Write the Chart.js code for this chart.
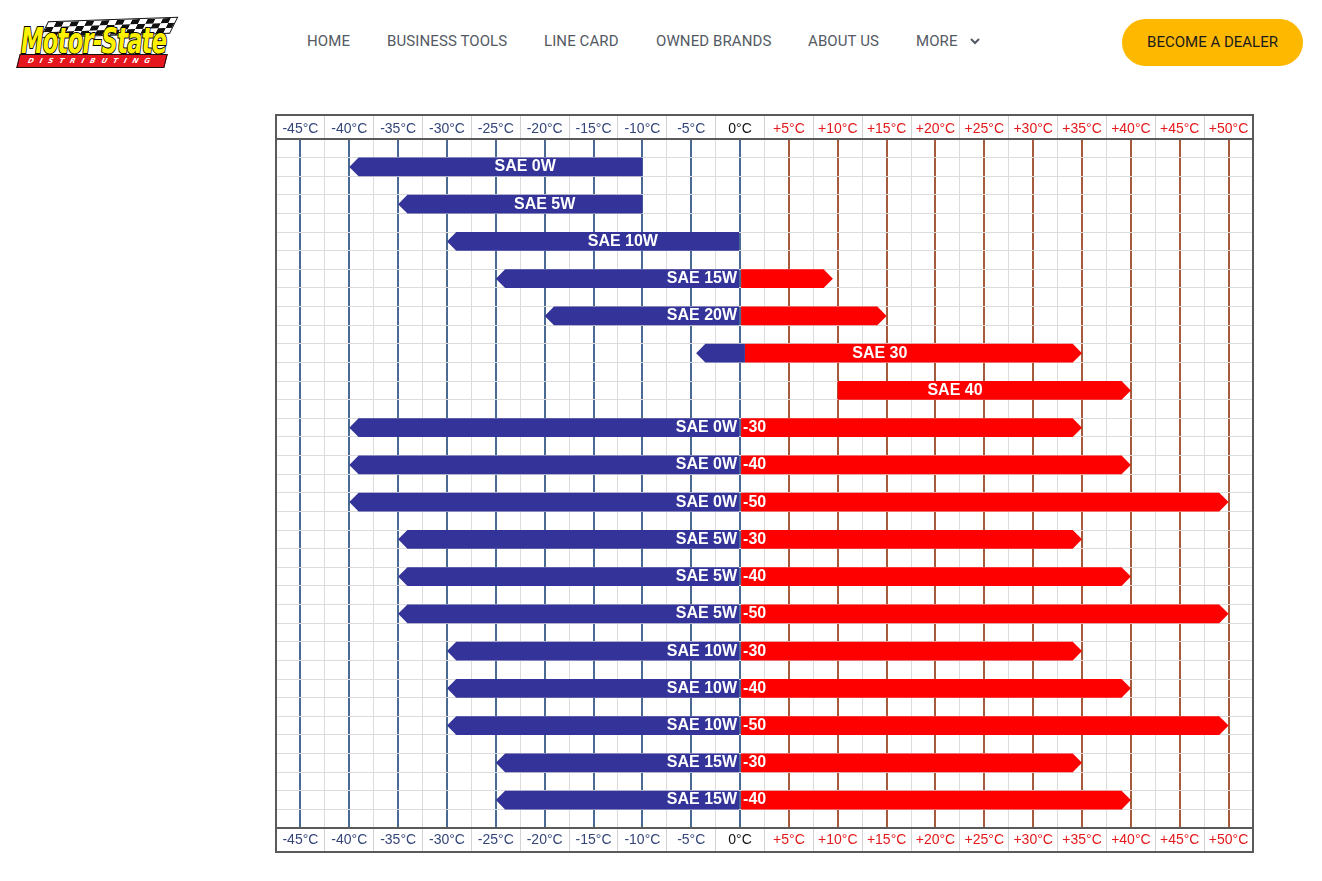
<!DOCTYPE html>
<html>
<head>
<meta charset="utf-8">
<title>SAE - temperatura</title>
<script src="https://cdn.jsdelivr.net/npm/chart.js@4.4.1/dist/chart.umd.min.js"></script>
<style>
  html, body { margin: 0; padding: 0; background: #fff; }
  body { width: 1322px; height: 881px; position: relative; overflow: hidden; font-family: Roboto, "Noto Sans", sans-serif; }
  .logo { position: absolute; left: 15px; top: 16px; width: 162px; height: 52px; }
  .bandera { position: absolute; left: 30px; top: 3px; width: 126px; height: 15px;
    background: repeating-conic-gradient(#111 0 25%, #fff 0 50%) 0 0 / 15px 10px;
    border: 1px solid #111; transform: skewX(-28deg) rotate(-2deg); }
  .marca { position: absolute; left: 6px; top: 4px; white-space: nowrap; font-family: "DejaVu Sans Condensed", "DejaVu Sans", sans-serif;
    font-stretch: condensed; font-weight: bold; font-style: italic; font-size: 34px; letter-spacing: -1px;
    color: #fff200; -webkit-text-stroke: 2px #000; paint-order: stroke fill; transform: scale(0.74, 1.02); transform-origin: left top; }
  .franja { position: absolute; left: 3px; top: 38px; width: 146px; height: 12px; background: #e5161d;
    border: 1.5px solid #111; transform: skewX(-14deg); color: #fff; font: italic bold 7px "DejaVu Sans", sans-serif;
    letter-spacing: 6px; line-height: 12px; text-align: center; white-space: nowrap; }
  .nav a { position: absolute; top: 31px; font-size: 15px; line-height: 20px; color: #545a63; text-decoration: none; letter-spacing: 0.1px; }
  .nav svg { position: absolute; left: 969px; top: 37px; }
  .boton { position: absolute; left: 1122px; top: 19px; width: 181px; height: 47px; border-radius: 24px; background: #ffb800;
    color: #1b1b1b; font-size: 15px; line-height: 47px; text-align: center; }
  #marcoGrafico { position: absolute; left: 270px; top: 100px; width: 990px; height: 760px; }
</style>
</head>
<body>
<div class="logo">
  <div class="bandera"></div>
  <div class="marca">Motor-State</div>
  <div class="franja">DISTRIBUTING</div>
</div>
<div class="nav">
  <a style="left:307px">HOME</a>
  <a style="left:387px">BUSINESS TOOLS</a>
  <a style="left:544px">LINE CARD</a>
  <a style="left:656px">OWNED BRANDS</a>
  <a style="left:808px">ABOUT US</a>
  <a style="left:916px">MORE</a>
  <svg width="12" height="8" viewBox="0 0 12 8"><path d="M2 2 L6 6 L10 2" fill="none" stroke="#545a63" stroke-width="2"/></svg>
</div>
<div class="boton">BECOME A DEALER</div>

<div id="marcoGrafico"><canvas id="graficoSAE"></canvas></div>

<script>
// === Datos (filas de arriba hacia abajo) ===
const gradoInvierno = ["SAE 0W", "SAE 5W", "SAE 10W", "SAE 15W", "SAE 20W", "", "",
  "SAE 0W", "SAE 0W", "SAE 0W", "SAE 5W", "SAE 5W", "SAE 5W",
  "SAE 10W", "SAE 10W", "SAE 10W", "SAE 15W", "SAE 15W"];
const gradoVerano = ["", "", "", "", "", "SAE 30", "SAE 40",
  "-30", "-40", "-50", "-30", "-40", "-50",
  "-30", "-40", "-50", "-30", "-40"];

// tramo azul (frio) y tramo rojo (calor), en grados C
const frioDesde = [-40, -35, -30, -25, -20, -4.5, null, -40, -40, -40, -35, -35, -35, -30, -30, -30, -25, -25];
const frioHasta = [-10, -10, 0, 0, 0, 0.5, null, 0, 0, 0, 0, 0, 0, 0, 0, 0, 0, 0];
const calorDesde = [null, null, null, 0, 0, 0.5, 10, 0, 0, 0, 0, 0, 0, 0, 0, 0, 0, 0];
const calorHasta = [null, null, null, 9.5, 15, 35, 40, 35, 40, 50, 35, 40, 50, 35, 40, 50, 35, 40];

// etiquetas de temperatura
const valoresTemp = [-45, -40, -35, -30, -25, -20, -15, -10, -5, 0, 5, 10, 15, 20, 25, 30, 35, 40, 45, 50];
const etiquetasTemp = ["-45\u00B0C", "-40\u00B0C", "-35\u00B0C", "-30\u00B0C", "-25\u00B0C", "-20\u00B0C", "-15\u00B0C",
  "-10\u00B0C", "-5\u00B0C", "0\u00B0C", "+5\u00B0C", "+10\u00B0C", "+15\u00B0C", "+20\u00B0C", "+25\u00B0C",
  "+30\u00B0C", "+35\u00B0C", "+40\u00B0C", "+45\u00B0C", "+50\u00B0C"];

const AZUL = "#333399";
const ROJO = "#fe0000";

function tramos(desde, hasta) {
  const out = [];
  desde.forEach((d, i) => {
    if (d !== null && hasta[i] !== null) out.push({ x: [d, hasta[i]], y: i });
  });
  return out;
}

// === Barras con punta de flecha ===
const barrasFlecha = {
  id: "barrasFlecha",
  beforeDatasetDraw(chart, args) {
    const ctx = chart.ctx;
    const ds = chart.data.datasets[args.index];
    ctx.save();
    ctx.fillStyle = ds.relleno;
    args.meta.data.forEach(bar => {
      const { x, y, base, height } = bar.getProps(["x", "y", "base", "height"], true);
      const izq = Math.min(x, base), der = Math.max(x, base);
      const arr = y - height / 2, aba = y + height / 2, p = height / 2;
      ctx.beginPath();
      if (ds.punta === "izq") {
        ctx.moveTo(izq, y);
        ctx.lineTo(izq + p, arr);
        ctx.lineTo(der, arr);
        ctx.lineTo(der, aba);
        ctx.lineTo(izq + p, aba);
      } else {
        ctx.moveTo(izq, arr);
        ctx.lineTo(der - p, arr);
        ctx.lineTo(der, y);
        ctx.lineTo(der - p, aba);
        ctx.lineTo(izq, aba);
      }
      ctx.closePath();
      ctx.fill();
    });
    ctx.restore();
    return false;
  }
};

// === Textos blancos sobre las barras ===
const textosBarras = {
  id: "textosBarras",
  afterDatasetsDraw(chart) {
    const { ctx, scales: { x, y } } = chart;
    const x0 = x.getPixelForValue(0);
    ctx.save();
    ctx.font = 'bold 16px "Liberation Sans", Arial, sans-serif';
    ctx.fillStyle = "#fff";
    ctx.textBaseline = "middle";
    for (let i = 0; i < gradoInvierno.length; i++) {
      const yc = y.getPixelForValue(i);
      const inv = gradoInvierno[i], ver = gradoVerano[i];
      if (inv && (ver || calorHasta[i] !== null)) {
        ctx.textAlign = "right";
        ctx.fillText(inv, x0 - 3, yc);
      } else if (inv) {
        const a = x.getPixelForValue(frioDesde[i]), b = x.getPixelForValue(frioHasta[i]);
        ctx.textAlign = "center";
        ctx.fillText(inv, b - 0.4 * (b - a), yc);
      }
      if (ver && inv) {
        ctx.textAlign = "left";
        ctx.fillText(ver, x0 + 3, yc);
      } else if (ver) {
        const a = x.getPixelForValue(calorDesde[i]), b = x.getPixelForValue(calorHasta[i]);
        ctx.textAlign = "center";
        ctx.fillText(ver, a + 0.4 * (b - a), yc);
      }
    }
    ctx.restore();
  }
};

// === Marco exterior ===
const marco = {
  id: "marco",
  afterDraw(chart) {
    const { ctx, chartArea, scales } = chart;
    const arriba = scales.x2.top, abajo = scales.x.bottom;
    ctx.save();
    ctx.strokeStyle = "#5a5a5a";
    ctx.lineWidth = 2;
    ctx.strokeRect(chartArea.left, arriba, chartArea.right - chartArea.left, abajo - arriba);
    ctx.restore();
  }
};

const esMayor = v => v % 5 === 0;
const colorGrid = c => {
  const v = c.tick.value;
  if (!esMayor(v)) return "#dcdcdc";
  return v <= 0 ? "#4a6a94" : "#a65a3c";
};
const colorTexto = c => {
  const v = c.tick.value;
  if (v === 0) return "#111";
  return v < 0 ? "#34457a" : "#e3191b";
};
const textoTick = v => {
  const k = valoresTemp.indexOf(v);
  return k >= 0 ? etiquetasTemp[k] : "";
};

function ejeTemp(posicion, sobreArea, relleno) {
  return {
    type: "linear",
    position: posicion,
    min: -47.5,
    max: 52.5,
    grid: {
      drawOnChartArea: sobreArea,
      color: colorGrid,
      lineWidth: c => esMayor(c.tick.value) ? 2 : 1,
      tickLength: 24,
      tickColor: c => esMayor(c.tick.value) ? "rgba(0,0,0,0)" : "#d2d2d2",
      tickWidth: 1
    },
    border: { color: "#5a5a5a", width: 2 },
    ticks: {
      stepSize: 2.5,
      autoSkip: false,
      minRotation: 0,
      maxRotation: 0,
      padding: relleno,
      color: colorTexto,
      font: { size: 14 },
      callback: textoTick
    },
    afterFit: s => { s.height = 24; }
  };
}

Chart.defaults.font.family = '"Liberation Sans", Arial, sans-serif';

new Chart(document.getElementById("graficoSAE"), {
  type: "bar",
  data: {
    datasets: [
      {
        label: "Frio",
        data: tramos(frioDesde, frioHasta),
        relleno: AZUL,
        punta: "izq",
        backgroundColor: AZUL,
        grouped: false,
        barPercentage: 1,
        categoryPercentage: 1
      },
      {
        label: "Calor",
        data: tramos(calorDesde, calorHasta),
        relleno: ROJO,
        punta: "der",
        backgroundColor: ROJO,
        grouped: false,
        barPercentage: 1,
        categoryPercentage: 1
      }
    ]
  },
  options: {
    indexAxis: "y",
    responsive: true,
    maintainAspectRatio: false,
    animation: false,
    layout: { padding: { left: 6, right: 7, top: 15, bottom: 8 } },
    plugins: { legend: { display: false }, tooltip: { enabled: false } },
    scales: {
      x: ejeTemp("bottom", true, -20),
      x2: ejeTemp("top", false, -23),
      y: {
        type: "linear",
        reverse: true,
        min: -0.75,
        max: 17.75,
        offset: false,
        z: -1,
        ticks: { display: false, stepSize: 0.5 },
        grid: { offset: false, color: "#dcdcdc", drawTicks: false },
        border: { display: false },
        afterFit: s => { s.width = 0; }
      }
    }
  },
  plugins: [barrasFlecha, textosBarras, marco]
});
</script>
</body>
</html>
